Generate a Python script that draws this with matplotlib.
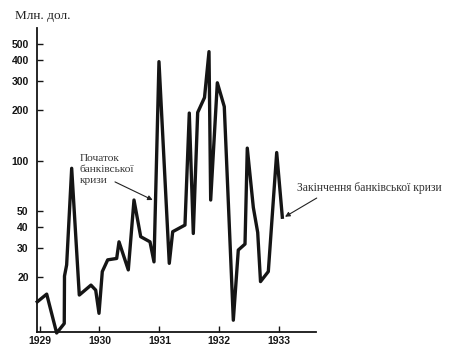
import matplotlib
matplotlib.use("Agg")
import matplotlib.pyplot as plt
from matplotlib.ticker import FixedLocator, NullLocator, FixedFormatter

# series: fractional year, mln dollars (log scale)
years = [1928.962, 1929.119, 1929.285, 1929.412, 1929.416, 1929.452, 1929.536,
         1929.663, 1929.858, 1929.937, 1929.992, 1930.047, 1930.137, 1930.287,
         1930.326, 1930.481, 1930.576, 1930.688, 1930.843, 1930.910, 1930.993,
         1931.165, 1931.222, 1931.427, 1931.499, 1931.566, 1931.639, 1931.753,
         1931.828, 1931.856, 1931.967, 1932.083, 1932.234, 1932.317, 1932.429,
         1932.467, 1932.568, 1932.641, 1932.688, 1932.818, 1932.958, 1933.052]
values = [14.3, 15.9, 9.3, 10.6, 20.4, 23.8, 90.1,
          15.7, 18.0, 16.8, 12.2, 21.7, 25.5, 26.0,
          32.7, 22.2, 58.2, 35.1, 32.7, 24.8, 392,
          24.3, 37.6, 41.2, 193, 36.7, 194.5, 239,
          450, 58.2, 293, 211, 11.1, 29.2, 31.7,
          119, 52.5, 37.2, 18.9, 21.7, 112, 45.9]

y_ticks = [20, 30, 40, 50, 100, 200, 300, 400, 500]
x_ticks = [1929, 1930, 1931, 1932, 1933]

title_text = "Млн. дол."
start_text = "Початок\nбанківської\nкризи"
end_text = "Закінчення банківської кризи"
start_point = (1930.888, 58.2)
start_tail = (1930.259, 74.7)
end_point = (1933.097, 46.2)
end_tail = (1933.626, 59.8)

fig = plt.figure(figsize=(4.63, 3.58), dpi=100)
ax = fig.add_axes([0.0799, 0.0726, 0.6026, 0.849])

ax.plot(years, values, color="#151515", lw=2.4, solid_joinstyle="round", clip_on=False)

ax.set_yscale("log")
ax.set_ylim(9.43, 623)
ax.set_xlim(1928.957, 1933.614)

ax.yaxis.set_major_locator(FixedLocator(y_ticks))
ax.yaxis.set_major_formatter(FixedFormatter([str(v) for v in y_ticks]))
ax.yaxis.set_minor_locator(NullLocator())
ax.xaxis.set_major_locator(FixedLocator(x_ticks))
ax.xaxis.set_minor_locator(NullLocator())

for s in ["top", "right"]:
    ax.spines[s].set_visible(False)
for s in ["left", "bottom"]:
    ax.spines[s].set_linewidth(1.3)
    ax.spines[s].set_color("#151515")

ax.tick_params(axis="both", direction="in", length=4, width=1.0, color="#151515")
ax.tick_params(axis="y", pad=6)
ax.tick_params(axis="x", pad=3)
for lab in ax.get_xticklabels() + ax.get_yticklabels():
    lab.set_fontfamily("Liberation Sans")
    lab.set_fontweight("bold")
    lab.set_fontsize(7.5)
    lab.set_color("#151515")

serif = ["Liberation Serif", "DejaVu Serif"]
fig.text(0.0324, 0.9553, title_text, family=serif, fontsize=9.5, va="center", ha="left",
         color="#222222")
fig.text(80 / 463, (358 - 154) / 358, start_text, family=serif, fontsize=8.2,
         va="top", ha="left", linespacing=1.3, color="#333333")
fig.text(297 / 463, (358 - 188) / 358, end_text, family=serif, fontsize=8.4,
         va="center", ha="left", color="#333333")

arrow = dict(arrowstyle="-|>", lw=0.8, color="#222222", mutation_scale=7,
             shrinkA=0, shrinkB=0)
ax.annotate("", xy=start_point, xytext=start_tail, arrowprops=arrow, annotation_clip=False)
ax.annotate("", xy=end_point, xytext=end_tail, arrowprops=arrow, annotation_clip=False)

fig.savefig("out.png", dpi=100)
